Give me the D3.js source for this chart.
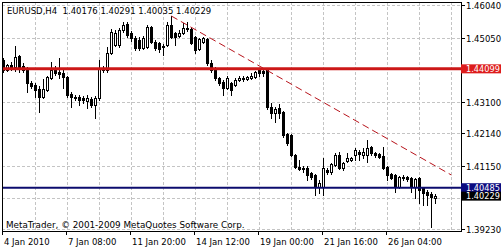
<!DOCTYPE html>
<html>
<head>
<meta charset="utf-8">
<script src="https://cdn.jsdelivr.net/npm/d3@7"></script>
<style>
  html, body { margin: 0; padding: 0; background: #fff; }
  svg text { font-family: "DejaVu Sans", Tahoma, sans-serif; font-size: 8.5px; white-space: pre; }
</style>
</head>
<body>
<div id="chart"></div>
<script>
// EURUSD H4 bars
const symbol = "EURUSD,H4";
const barOpen = [
  1.44368, 1.44064, 1.44216, 1.44155, 1.44490, 1.44186, 1.44094, 1.43669, 1.43608, 1.43486,
  1.43243, 1.43456, 1.43821, 1.44064, 1.44003, 1.43973, 1.43851, 1.43334, 1.43213, 1.43243,
  1.43213, 1.43122, 1.43182, 1.43000, 1.43213, 1.44125, 1.44064, 1.44581, 1.44824, 1.44824,
  1.45280, 1.45462, 1.45189, 1.45037, 1.44976, 1.44733, 1.44763, 1.45371, 1.44915, 1.44885,
  1.44794, 1.44824, 1.45432, 1.45189, 1.45098, 1.45189, 1.45341, 1.45310, 1.45067, 1.44702,
  1.44915, 1.45006, 1.44277, 1.44125, 1.43821, 1.43699, 1.43517, 1.43669, 1.43608, 1.43760,
  1.43790, 1.43790, 1.43821, 1.43851, 1.44064, 1.44034, 1.44064, 1.42939, 1.42757, 1.42909,
  1.42787, 1.42118, 1.42088, 1.41480, 1.41115, 1.41054, 1.41085, 1.40933, 1.40872, 1.40507,
  1.40507, 1.41024, 1.40963, 1.41176, 1.41480, 1.41085, 1.41298, 1.41328, 1.41480, 1.41571,
  1.41480, 1.41480, 1.41723, 1.41541, 1.41510, 1.41450, 1.41115, 1.40902, 1.40872, 1.40507,
  1.40781, 1.40811, 1.40781, 1.40507, 1.40781, 1.40477, 1.40355, 1.40294, 1.40176
];
const barHigh = [
  1.44429, 1.44246, 1.44307, 1.44794, 1.44520, 1.44277, 1.44155, 1.43730, 1.43669, 1.43578,
  1.43790, 1.43882, 1.44307, 1.44186, 1.44429, 1.44064, 1.43882, 1.43395, 1.43304, 1.43304,
  1.43274, 1.43304, 1.43243, 1.43274, 1.44368, 1.44186, 1.44763, 1.45310, 1.45280, 1.45341,
  1.45523, 1.45523, 1.45250, 1.45098, 1.45067, 1.45098, 1.45432, 1.45402, 1.44976, 1.44915,
  1.44854, 1.45523, 1.45706, 1.45219, 1.45280, 1.45493, 1.45523, 1.45341, 1.45098, 1.45037,
  1.45067, 1.45037, 1.44368, 1.44155, 1.43851, 1.43760, 1.43882, 1.43699, 1.43821, 1.43882,
  1.43882, 1.43882, 1.43973, 1.44034, 1.44125, 1.44064, 1.44094, 1.43061, 1.42939, 1.43030,
  1.42818, 1.42149, 1.42118, 1.41510, 1.41328, 1.41146, 1.41146, 1.40963, 1.40902, 1.40720,
  1.41389, 1.41085, 1.41237, 1.41541, 1.41571, 1.41267, 1.41541, 1.41419, 1.41693, 1.41632,
  1.41693, 1.41936, 1.41754, 1.41571, 1.41541, 1.41723, 1.41146, 1.40933, 1.40902, 1.40842,
  1.40872, 1.40842, 1.40811, 1.40781, 1.40811, 1.40507, 1.40416, 1.40355, 1.40291
];
const barLow = [
  1.44003, 1.44034, 1.44064, 1.44034, 1.44003, 1.44003, 1.43395, 1.43517, 1.43243, 1.42787,
  1.43213, 1.43426, 1.43790, 1.43912, 1.43821, 1.43517, 1.43243, 1.42939, 1.43152, 1.43000,
  1.43061, 1.42909, 1.42939, 1.42605, 1.43152, 1.44003, 1.44003, 1.44550, 1.44794, 1.44763,
  1.45219, 1.45067, 1.44946, 1.44672, 1.44672, 1.44702, 1.44733, 1.44885, 1.44672, 1.44611,
  1.44520, 1.44794, 1.45037, 1.44824, 1.45067, 1.45158, 1.45250, 1.44854, 1.44581, 1.44672,
  1.44885, 1.44216, 1.44003, 1.43760, 1.43608, 1.43304, 1.43486, 1.43304, 1.43578, 1.43730,
  1.43730, 1.43760, 1.43790, 1.43821, 1.43882, 1.43882, 1.42878, 1.42605, 1.42483, 1.42605,
  1.42027, 1.41784, 1.41450, 1.41085, 1.41024, 1.40963, 1.40720, 1.40750, 1.40264, 1.40325,
  1.40264, 1.40902, 1.40902, 1.41146, 1.41054, 1.41024, 1.41267, 1.41298, 1.41328, 1.41328,
  1.41389, 1.41267, 1.41480, 1.41419, 1.41389, 1.41054, 1.40720, 1.40750, 1.40355, 1.40477,
  1.40720, 1.40690, 1.40355, 1.40173, 1.40021, 1.39960, 1.39960, 1.39291, 1.40035
];
const barClose = [
  1.44064, 1.44216, 1.44155, 1.44459, 1.44155, 1.44064, 1.43669, 1.43578, 1.43456, 1.43243,
  1.43486, 1.43851, 1.44064, 1.43973, 1.43942, 1.43851, 1.43304, 1.43243, 1.43243, 1.43152,
  1.43152, 1.43213, 1.43000, 1.43213, 1.44125, 1.44064, 1.44581, 1.45219, 1.45189, 1.45280,
  1.45432, 1.45128, 1.45037, 1.44733, 1.44733, 1.45037, 1.45371, 1.44915, 1.44733, 1.44702,
  1.44763, 1.45432, 1.45067, 1.45067, 1.45189, 1.45341, 1.45310, 1.44885, 1.44672, 1.45006,
  1.45037, 1.44277, 1.44064, 1.43821, 1.43669, 1.43517, 1.43821, 1.43456, 1.43760, 1.43821,
  1.43821, 1.43851, 1.43882, 1.44003, 1.43973, 1.43973, 1.42939, 1.42757, 1.42878, 1.42757,
  1.42088, 1.41845, 1.41480, 1.41115, 1.41054, 1.41085, 1.40872, 1.40811, 1.40507, 1.40629,
  1.41085, 1.40963, 1.41206, 1.41480, 1.41085, 1.41237, 1.41389, 1.41389, 1.41632, 1.41510,
  1.41571, 1.41693, 1.41541, 1.41480, 1.41419, 1.41085, 1.40872, 1.40781, 1.40507, 1.40811,
  1.40811, 1.40750, 1.40507, 1.40750, 1.40416, 1.40325, 1.40264, 1.40203, 1.40229
];

// time axis labels sit every 16 bars
const timeLabels = ["4 Jan 2010", "7 Jan 08:00", "11 Jan 20:00", "14 Jan 12:00", "19 Jan 00:00", "21 Jan 16:00", "26 Jan 04:00"];
const timeLabelBars = [0, 16, 32, 48, 64, 80, 96];
// price grid, and the scale labels that are not covered by the level labels
const priceGrid = [1.46040, 1.45050, 1.44080, 1.43100, 1.42140, 1.41150, 1.40180, 1.39230];
const priceTickLabels = [1.46040, 1.45050, 1.43100, 1.42140, 1.41150, 1.39230];

// chart objects
const redLevel = 1.44099;
const blueLevel = 1.40485;
const trendPoints = [[42, 1.45706], [112, 1.40872]];

const W = 503, H = 250;
const plot = { left: 2, top: 2, right: 461, bottom: 231 };

const svg = d3.select("#chart").append("svg")
  .attr("width", W)
  .attr("height", H)
  .style("display", "block")
  .style("background", "#fff");

const x = d3.scaleLinear().domain([0, 108]).range([3.3, 435.3]);
const y = d3.scaleLinear().domain([1.3923, 1.4604]).range([229, 5]);

svg.append("clipPath").attr("id", "plot-clip")
  .append("rect")
  .attr("x", plot.left).attr("y", plot.top)
  .attr("width", plot.right - plot.left).attr("height", plot.bottom - plot.top);

// grid
const grid = svg.append("g").attr("stroke", "#c4c4c4").attr("stroke-dasharray", "3,2");
priceGrid.forEach(p => {
  const yy = Math.round(y(p)) + 0.5;
  grid.append("line").attr("x1", plot.left).attr("x2", plot.right).attr("y1", yy).attr("y2", yy);
});
d3.range(8, 113, 8).forEach(b => {
  const xx = Math.round(x(b)) + 0.5;
  grid.append("line").attr("x1", xx).attr("x2", xx).attr("y1", plot.top).attr("y2", plot.bottom);
});

// candles
const candles = svg.append("g").attr("clip-path", "url(#plot-clip)");
barOpen.forEach((o, i) => {
  const c = barClose[i];
  const cx = Math.round(x(i));
  const yh = Math.round(y(barHigh[i])), yl = Math.round(y(barLow[i]));
  const yo = Math.round(y(o)), yc = Math.round(y(c));
  const top = Math.min(yo, yc), bot = Math.max(yo, yc);
  candles.append("rect")
    .attr("x", cx).attr("y", yh)
    .attr("width", 1).attr("height", Math.max(1, yl - yh + 1))
    .attr("fill", "#000");
  if (c >= o) {
    candles.append("rect")
      .attr("x", cx - 0.5).attr("y", top + 0.5)
      .attr("width", 2).attr("height", Math.max(1, bot - top))
      .attr("fill", "#fff").attr("stroke", "#000");
  } else {
    candles.append("rect")
      .attr("x", cx - 1).attr("y", top)
      .attr("width", 3).attr("height", bot - top + 1)
      .attr("fill", "#000");
  }
});

// trend line
const objects = svg.append("g").attr("clip-path", "url(#plot-clip)");
objects.append("line")
  .attr("x1", x(trendPoints[0][0])).attr("y1", y(trendPoints[0][1]))
  .attr("x2", x(trendPoints[1][0])).attr("y2", y(trendPoints[1][1]))
  .attr("stroke", "#b8141c").attr("stroke-width", 1).attr("stroke-dasharray", "7,4");

// horizontal levels
objects.append("line")
  .attr("x1", plot.left).attr("x2", plot.right)
  .attr("y1", y(redLevel)).attr("y2", y(redLevel))
  .attr("stroke", "#cc1818").attr("stroke-width", 3);
objects.append("line")
  .attr("x1", plot.left).attr("x2", plot.right)
  .attr("y1", y(blueLevel)).attr("y2", y(blueLevel))
  .attr("stroke", "#0c0c6e").attr("stroke-width", 2);

// frame
svg.append("rect")
  .attr("x", plot.left + 0.5).attr("y", plot.top + 0.5)
  .attr("width", plot.right - plot.left).attr("height", plot.bottom - plot.top)
  .attr("fill", "none").attr("stroke", "#000");

// price axis
priceTickLabels.forEach(p => {
  const yy = Math.round(y(p)) + 0.5;
  svg.append("line").attr("x1", plot.right).attr("x2", plot.right + 4)
    .attr("y1", yy).attr("y2", yy).attr("stroke", "#000");
  svg.append("text").attr("x", 466).attr("y", yy + 3)
    .attr("fill", "#000").text(p.toFixed(5));
});

// time axis
timeLabelBars.forEach((b, k) => {
  const xx = Math.round(x(b)) - 0.5;
  svg.append("line").attr("x1", xx).attr("x2", xx)
    .attr("y1", plot.bottom).attr("y2", plot.bottom + 4).attr("stroke", "#000");
  svg.append("text").attr("x", xx + 1.5).attr("y", 245)
    .attr("fill", "#000").text(timeLabels[k]);
});

// price labels on the right scale
function priceLabel(p, color) {
  const yy = y(p);
  svg.append("rect").attr("x", plot.right).attr("y", yy - 4.5)
    .attr("width", 40).attr("height", 9).attr("fill", color);
  svg.append("text").attr("x", 466).attr("y", yy + 3)
    .attr("fill", "#fff").style("font-size", "8.2px").text(p.toFixed(5));
}
const last = barOpen.length - 1;
priceLabel(redLevel, "#dd1c1c");
priceLabel(blueLevel, "#0c0c80");
priceLabel(barClose[last], "#000");

// header and footer
svg.append("text").attr("x", 7).attr("y", 13.5).attr("fill", "#000")
  .text(symbol + "  " + [barOpen[last], barHigh[last], barLow[last], barClose[last]].map(v => v.toFixed(5)).join(" "));
svg.append("text").attr("x", 6).attr("y", 228).attr("fill", "#000")
  .style("font-size", "8.8px")
  .text("MetaTrader, © 2001-2009 MetaQuotes Software Corp.");
</script>
</body>
</html>
